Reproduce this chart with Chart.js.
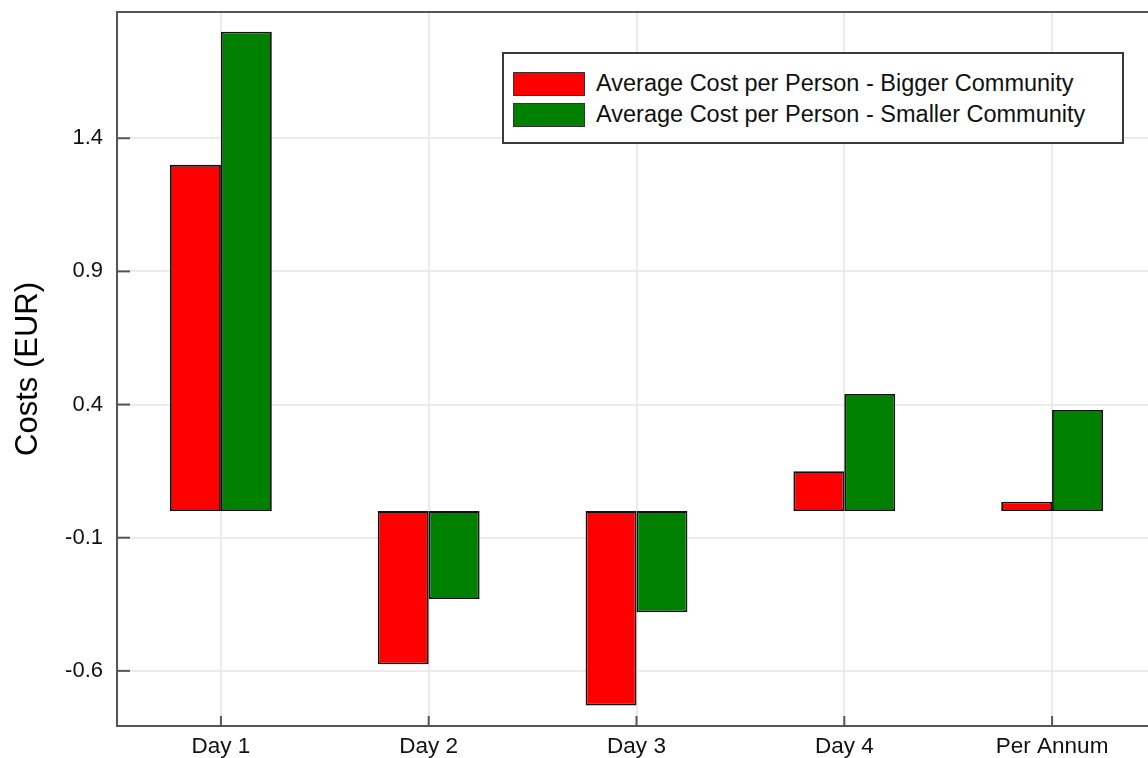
<!DOCTYPE html>
<html>
<head>
<meta charset="utf-8">
<script src="https://cdn.jsdelivr.net/npm/chart.js@4/dist/chart.umd.min.js"></script>
<style>
    html, body { margin: 0; padding: 0; background: #fff; overflow: hidden; }
    #wrap { position: relative; width: 1160px; height: 758px; }
    #legend {
        position: absolute; left: 502px; top: 52px; width: 622px; height: 92px;
        border: 2px solid #3a3a3a; background: #fff;
        font-family: "Liberation Sans", Arial, sans-serif; font-size: 23.5px; color: #111;
        padding-top: 14px; box-sizing: border-box;
    }
    .item { display: flex; align-items: center; height: 31px; margin-left: 9px; }
    .swatch { width: 70px; height: 22px; border: 1.5px solid #333; margin-right: 11px; }
</style>
</head>
<body>
<div id="wrap">
    <canvas id="costChart" width="1160" height="758"></canvas>
    <div id="legend"></div>
</div>
<script>
const categories = ['Day 1', 'Day 2', 'Day 3', 'Day 4', 'Per Annum'];
const seriesNames = ['Average Cost per Person - Bigger Community', 'Average Cost per Person - Smaller Community'];
const biggerCommunity = [1.30, -0.575, -0.73, 0.15, 0.035];
const smallerCommunity = [1.80, -0.33, -0.38, 0.44, 0.38];
const yTicks = [-0.6, -0.1, 0.4, 0.9, 1.4];
const colors = ['#ff0000', '#008000'];

document.addEventListener('DOMContentLoaded', function() {
    // custom frame with inward ticks
    const framePlugin = {
        id: 'frame',
        afterDraw(chart) {
            const ctx = chart.ctx;
            const a = chart.chartArea;
            ctx.save();
            ctx.strokeStyle = '#555';
            ctx.lineWidth = 2;
            ctx.beginPath();
            ctx.moveTo(a.right + 10, a.top);
            ctx.lineTo(a.left, a.top);
            ctx.lineTo(a.left, a.bottom);
            ctx.lineTo(a.right + 10, a.bottom);
            ctx.stroke();
            const y = chart.scales.y;
            yTicks.forEach(function(v) {
                const py = y.getPixelForValue(v);
                ctx.beginPath();
                ctx.moveTo(a.left, py);
                ctx.lineTo(a.left + 13, py);
                ctx.stroke();
            });
            const x = chart.scales.x;
            categories.forEach(function(c, i) {
                const px = x.getPixelForValue(i);
                ctx.beginPath();
                ctx.moveTo(px, a.bottom);
                ctx.lineTo(px, a.bottom - 10);
                ctx.stroke();
            });
            ctx.restore();
        }
    };

    const ctx = document.getElementById('costChart').getContext('2d');
    new Chart(ctx, {
        type: 'bar',
        data: {
            labels: categories,
            datasets: [{
                label: seriesNames[0],
                data: biggerCommunity,
                backgroundColor: colors[0],
                borderColor: '#111',
                borderWidth: 1.8,
                borderSkipped: false
            }, {
                label: seriesNames[1],
                data: smallerCommunity,
                backgroundColor: colors[1],
                borderColor: '#111',
                borderWidth: 1.8,
                borderSkipped: false
            }]
        },
        options: {
            responsive: false,
            animation: false,
            layout: { padding: { top: 12, right: 4, left: 0, bottom: 0 } },
            datasets: { bar: { categoryPercentage: 0.49, barPercentage: 1 } },
            plugins: {
                legend: { display: false },
                tooltip: { enabled: false }
            },
            scales: {
                x: {
                    grid: { offset: false, color: '#ebebeb', lineWidth: 2, drawTicks: false },
                    border: { display: false },
                    ticks: {
                        padding: 7,
                        color: '#111',
                        font: { family: '"Liberation Sans", Arial, sans-serif', size: 22.5 }
                    },
                    afterFit: function(scale) {
                        scale.height = 32;
                        scale.paddingLeft = 0;
                        scale.paddingRight = 0;
                    }
                },
                y: {
                    min: -0.807,
                    max: 1.874,
                    afterBuildTicks: function(scale) {
                        scale.ticks = yTicks.map(function(v) { return { value: v }; });
                    },
                    grid: { color: '#ebebeb', lineWidth: 2, drawTicks: false },
                    border: { display: false },
                    ticks: {
                        padding: 14,
                        color: '#111',
                        font: { family: '"Liberation Sans", Arial, sans-serif', size: 22 },
                        callback: function(v) { return v.toFixed(1); }
                    },
                    title: {
                        display: true,
                        text: 'Costs (EUR)',
                        color: '#000',
                        padding: { top: 10, bottom: 0 },
                        font: { family: '"Liberation Sans", Arial, sans-serif', size: 31 }
                    },
                    afterFit: function(scale) {
                        scale.width = 117;
                        scale.paddingTop = 0;
                        scale.paddingBottom = 0;
                    }
                }
            }
        },
        plugins: [framePlugin]
    });

    // legend
    const legend = document.getElementById('legend');
    seriesNames.forEach(function(name, i) {
        const row = document.createElement('div');
        row.className = 'item';
        const sw = document.createElement('span');
        sw.className = 'swatch';
        sw.style.background = colors[i];
        const txt = document.createElement('span');
        txt.textContent = name;
        row.appendChild(sw);
        row.appendChild(txt);
        legend.appendChild(row);
    });
});
</script>
</body>
</html>
